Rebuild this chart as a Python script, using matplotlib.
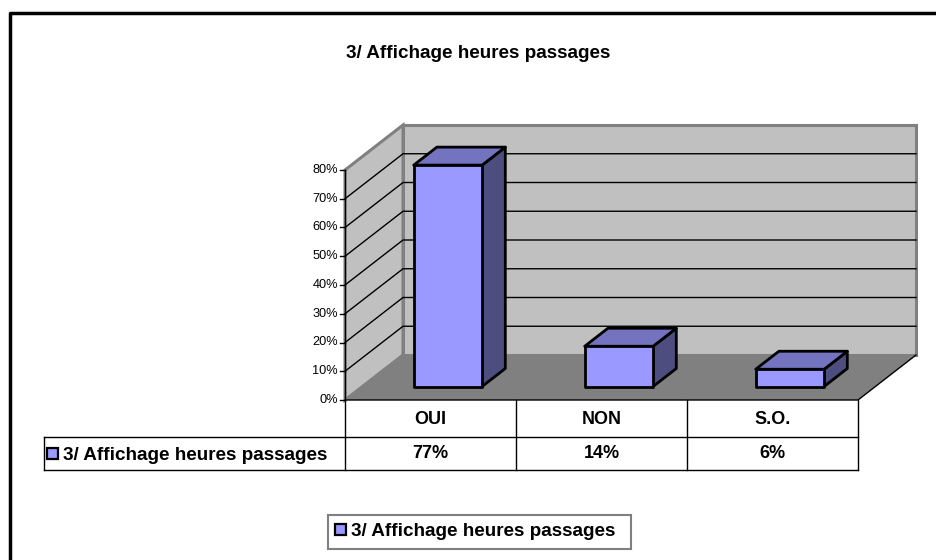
import numpy as np
import matplotlib
matplotlib.use("Agg")
import matplotlib.pyplot as plt
from matplotlib.patches import Polygon, Rectangle

plt.rcParams['font.family'] = ['Liberation Sans', 'DejaVu Sans']

TITLE = "3/ Affichage heures passages"
SERIES = "3/ Affichage heures passages"
categories = ["OUI", "NON", "S.O."]
values = [0.77, 0.14, 0.06]
value_labels = ["77%", "14%", "6%"]
yticks = [0.0, 0.1, 0.2, 0.3, 0.4, 0.5, 0.6, 0.7, 0.8]
ytick_labels = ["0%", "10%", "20%", "30%", "40%", "50%", "60%", "70%", "80%"]

W, H = 937, 560
# front plane in pixels: left x=345, 0% at y=400, 80% at y=170, category width 171 px
PX_CAT = 171.0
PX_VAL = 287.5
X0_PX, Y0_PX = 345.0, 400.0
DEPTH_PX = (58.0, 45.0)
DX = DEPTH_PX[0] / PX_CAT
DY = DEPTH_PX[1] / PX_VAL
YMAX = 0.8

C_FRONT = "#9999FF"
C_TOP = "#7373C0"
C_SIDE = "#4D4D80"
C_WALL = "#C0C0C0"
C_FLOOR = "#808080"
C_EDGE = "#808080"

BIG = 13.6

fig = plt.figure(figsize=(W / 100, H / 100), dpi=100)
ax = fig.add_axes([0, 0, 1, 1])
ax.set_xlim(-0.5 - X0_PX / PX_CAT, -0.5 + (W - X0_PX) / PX_CAT)
ax.set_ylim(-(H - Y0_PX) / PX_VAL, Y0_PX / PX_VAL)
ax.axis("off")


def P(x, v, f=0.0):
    return (x + f * DX, v + f * DY)


def poly(pts, **kw):
    ax.add_patch(Polygon(pts, closed=True, **kw))


xl, xr = -0.5, len(categories) - 0.5

# outer chart border
yfig = lambda py: 1 - py / H
ax.plot([10 / W, 10 / W, 1], [0, yfig(13), yfig(13)], color="black", lw=2.5,
        transform=ax.transAxes, solid_capstyle="projecting")

# walls and floor
poly([P(xl, 0, 1), P(xr, 0, 1), P(xr, YMAX, 1), P(xl, YMAX, 1)],
     facecolor=C_WALL, edgecolor=C_EDGE, lw=2.2, zorder=1)
poly([P(xl, 0, 0), P(xl, YMAX, 0), P(xl, YMAX, 1), P(xl, 0, 1)],
     facecolor=C_WALL, edgecolor=C_EDGE, lw=2.2, zorder=1)
poly([P(xl, 0, 0), P(xr, 0, 0), P(xr, 0, 1), P(xl, 0, 1)],
     facecolor=C_FLOOR, edgecolor="none", zorder=2)

# gridlines on the side and back walls
for v in yticks[1:-1]:
    pts = np.array([P(xl, v, 0), P(xl, v, 1), P(xr, v, 1)])
    ax.plot(pts[:, 0], pts[:, 1], color="black", lw=1.0, zorder=1.5)

# floor edges
pts = np.array([P(xl, 0, 0), P(xr, 0, 0), P(xr, 0, 1)])
ax.plot(pts[:, 0], pts[:, 1], color="black", lw=1.0, zorder=3)
ax.plot([xl, xl], [0, YMAX], color="black", lw=1.0, zorder=3)

# y ticks
tick_len = 5 / PX_CAT
for v, lab in zip(yticks, ytick_labels):
    ax.plot([xl - tick_len, xl], [v, v], color="black", lw=1.0, zorder=3)
    ax.text(xl - tick_len - 2 / PX_CAT, v, lab, ha="right", va="center",
            fontsize=9.2, zorder=3)

# bars
half = 0.2
f0, f1 = 0.3, 0.7
for i, v in enumerate(values):
    a, b = i - half, i + half
    style = dict(edgecolor="black", lw=2.0, joinstyle="round", zorder=4)
    poly([P(b, 0, f0), P(b, v, f0), P(b, v, f1), P(b, 0, f1)], facecolor=C_SIDE, **style)
    poly([P(a, v, f0), P(b, v, f0), P(b, v, f1), P(a, v, f1)], facecolor=C_TOP, **style)
    poly([P(a, 0, f0), P(b, 0, f0), P(b, v, f0), P(a, v, f0)], facecolor=C_FRONT, **style)

# data table
tr = ax.get_xaxis_transform()
r0, r1, r2 = yfig(400), yfig(437), yfig(470)
xleg = -0.5 - (X0_PX - 44) / PX_CAT
lkw = dict(color="black", lw=1.0, transform=tr, zorder=3)
ax.plot([xleg, xr], [r1, r1], **lkw)
ax.plot([xleg, xr], [r2, r2], **lkw)
ax.plot([xleg, xleg], [r1, r2], **lkw)
for k in range(len(categories) + 1):
    ax.plot([xl + k, xl + k], [r0, r2], **lkw)
for i, (cat, lab) in enumerate(zip(categories, value_labels)):
    ax.text(i, yfig(419), cat, ha="center", va="center", fontsize=13,
            fontweight="bold", transform=tr)
    ax.text(i, yfig(454), lab, ha="center", va="center", fontsize=13,
            fontweight="bold", transform=tr)
sq = 11 / W
ax.add_patch(Rectangle((47 / W, yfig(459)), sq, 11 / H, facecolor=C_FRONT,
                       edgecolor="black", lw=1.6, transform=ax.transAxes, zorder=3))
ax.text(63 / W, yfig(455.5), SERIES, ha="left", va="center", fontsize=BIG,
        fontweight="bold", transform=ax.transAxes)

# title
ax.text(0.5 * (343 + 613) / W, yfig(53.5), TITLE, ha="center", va="center",
        fontsize=BIG, fontweight="bold", transform=ax.transAxes)

# legend at the bottom
ax.add_patch(Rectangle((328 / W, yfig(549)), (631 - 328) / W, 34 / H, facecolor="white",
                       edgecolor="#808080", lw=1.5, transform=ax.transAxes, zorder=3))
ax.add_patch(Rectangle((335 / W, yfig(535)), sq, 11 / H, facecolor=C_FRONT,
                       edgecolor="black", lw=1.6, transform=ax.transAxes, zorder=4))
ax.text(351 / W, yfig(532), SERIES, ha="left", va="center", fontsize=BIG,
        fontweight="bold", transform=ax.transAxes, zorder=4)

fig.savefig("out.png", dpi=100)
